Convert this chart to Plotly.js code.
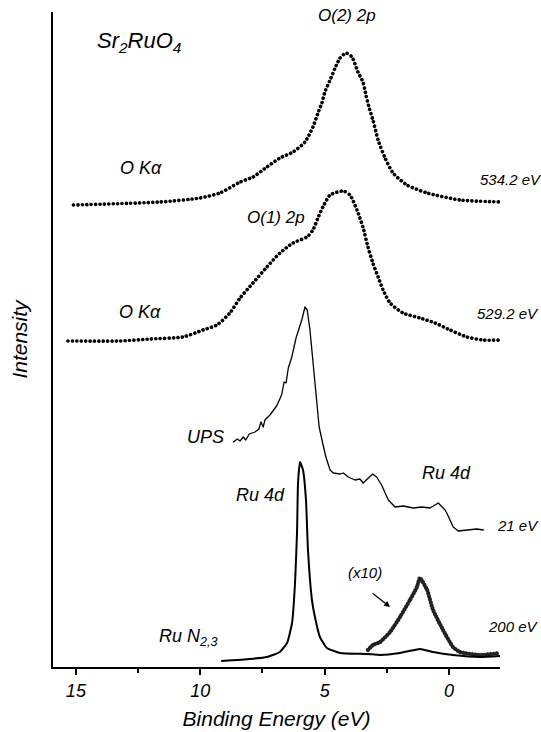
<!DOCTYPE html>
<html>
<head>
<meta charset="utf-8">
<script src="https://cdn.plot.ly/plotly-3.0.1.min.js"></script>
<style>
html,body{margin:0;padding:0;background:#fff;}
#chart{width:541px;height:732px;}
#chart path.js-line{stroke-linecap:round;stroke-linejoin:round;}
</style>
</head>
<body>
<div id="chart"></div>
<script>
// Binding energy (eV) and intensity (arbitrary, offset per spectrum)
const oKa534E = [15.1,11.62,10.01,9.21,8.40,7.88,7.32,6.80,6.27,5.79,5.47,5.27,5.11,4.99,4.78,4.58,4.38,4.14,3.90,3.66,3.46,3.34,3.22,3.06,2.85,2.57,2.25,1.69,0.88,-0.44,-2.13];
const oKa534I = [462,465,469,474,485,490,500,509,515,525,540,554,564,575,587,599,609,614,610,595,585,572,560,547,527,509,494,482,474,467,465];

const oKa529E = [15.32,13.23,12.02,10.70,9.89,9.33,8.81,8.40,7.88,7.32,6.80,6.27,5.71,5.47,5.27,5.07,4.78,4.26,3.98,3.70,3.46,3.26,3.06,2.85,2.65,2.37,1.85,1.17,0.56,-0.04,-0.72,-1.37,-2.25];
const oKa529I = [326,326,328,330,337,342,354,369,384,400,414,424,430,437,449,460,472,476,472,457,440,420,404,390,377,364,354,349,344,337,330,327,327];

const upsE = [8.67,8.51,8.40,8.27,8.17,8.03,7.80,7.64,7.56,7.47,7.40,7.20,6.93,6.73,6.63,6.55,6.46,6.32,6.15,6.02,5.92,5.79,5.70,5.59,5.46,5.32,5.22,5.08,4.95,4.78,4.65,4.38,4.25,4.05,3.78,3.58,3.45,3.24,3.07,2.91,2.71,2.44,2.17,1.84,1.44,1.10,0.76,0.43,0.16,0.09,-0.17,-0.37,-0.71,-1.11,-1.38];
const upsI = [225,228,226,230,227,233,235,238,245,240,247,252,261,272,285,284,299,310,329,338,347,360,357,337,304,270,240,224,210,197,194,193,194,190,187,188,184,189,193,190,182,167,160,161,159,160,159,164,157,154,140,136,137,138,137];

const ruNE = [9.13,8.00,7.32,6.80,6.51,6.31,6.19,6.11,6.07,5.99,5.87,5.75,5.67,5.51,5.39,5.19,4.91,4.38,3.30,2.77,1.97,1.17,0.64,-0.16,-1.25,-2.05];
const ruNI = [6,8,10,15,24,44,84,134,184,205,197,167,117,67,50,30,19,14,13,12,14,18,15,12,10,11];

const ruNx10E = [3.26,3.06,2.77,2.37,1.97,1.57,1.29,1.17,0.88,0.64,0.24,-0.16,-0.44,-1.25,-2.05];
const ruNx10I = [17,22,25,35,50,67,80,89,77,57,37,20,15,12,14];

const tickVals = [15,10,5,0];
const tickText = ['15','10','5','0'];
const minorVals = [12.5,7.5,2.5];

const FONT = 'Arial, "Liberation Sans", sans-serif';
const dotted = {color:'#000', width:3.6, dash:'0.1px,4.3px', shape:'spline', smoothing:0.6};

const traces = [
  {x:oKa534E, y:oKa534I, mode:'lines', line:dotted, hoverinfo:'skip'},
  {x:oKa529E, y:oKa529I, mode:'lines', line:dotted, hoverinfo:'skip'},
  {x:upsE, y:upsI, mode:'lines', line:{color:'#000', width:1.3}, hoverinfo:'skip'},
  {x:ruNx10E, y:ruNx10I, mode:'lines', line:{color:'#222', width:4.2, dash:'0.1px,3px', shape:'spline', smoothing:0.5}, hoverinfo:'skip'},
  {x:ruNE, y:ruNI, mode:'lines', line:{color:'#000', width:2, shape:'spline', smoothing:0.4}, hoverinfo:'skip'}
];

function lab(text, x, y, size, anchor){
  return {text:'<i>'+text+'</i>', x:x, y:y, xref:'x', yref:'y', showarrow:false,
          xanchor:anchor||'center', yanchor:'middle', font:{family:FONT, size:size, color:'#000'}};
}

const annotations = [
  lab('Sr<sub>2</sub>RuO<sub>4</sub>', 12.46, 625, 22),
  lab('O(2) 2p', 4.10, 652, 17),
  lab('O Kα', 12.38, 499, 18),
  lab('534.2 eV', -1.17, 488, 15, 'left'),
  lab('O(1) 2p', 6.96, 450, 17),
  lab('O Kα', 12.42, 355, 18),
  lab('529.2 eV', -1.05, 354, 15, 'left'),
  lab('UPS', 9.77, 230, 18),
  lab('Ru 4d', 0.12, 194, 18),
  lab('21 eV', -1.85, 142, 15, 'left'),
  lab('Ru 4d', 7.56, 172, 18),
  lab('(x10)', 3.38, 95, 15),
  lab('Ru N<sub>2,3</sub>', 10.49, 30, 18),
  lab('200 eV', -1.49, 41, 15, 'left'),
  {x:2.37, y:60, xref:'x', yref:'y', ax:-19, ay:-15, text:'', showarrow:true,
   arrowhead:2, arrowsize:1, arrowwidth:1.2, arrowcolor:'#000'}
];

const layout = {
  width:541, height:732,
  margin:{l:53, r:41, t:12, b:65},
  paper_bgcolor:'#fff', plot_bgcolor:'#fff',
  showlegend:false,
  font:{family:FONT, color:'#000'},
  xaxis:{
    range:[15.92,-2.05], showgrid:false, zeroline:false,
    showline:true, linecolor:'#000', linewidth:2,
    ticks:'outside', ticklen:6, tickwidth:2, tickcolor:'#000',
    tickvals:tickVals, ticktext:tickText,
    tickfont:{family:FONT, size:18, style:'italic', color:'#000'},
    minor:{tickvals:minorVals, ticks:'outside', ticklen:4, tickwidth:2, tickcolor:'#000'},
    title:{text:'Binding Energy (eV)', font:{family:FONT, size:21, style:'italic', color:'#000'}, standoff:12}
  },
  yaxis:{
    range:[0,655], showgrid:false, zeroline:false,
    showline:true, linecolor:'#000', linewidth:2,
    ticks:'', showticklabels:false,
    title:{text:'Intensity', font:{family:FONT, size:21, style:'italic', color:'#000'}, standoff:18}
  },
  annotations:annotations
};

Plotly.newPlot('chart', traces, layout, {displayModeBar:false, staticPlot:true});
</script>
</body>
</html>
